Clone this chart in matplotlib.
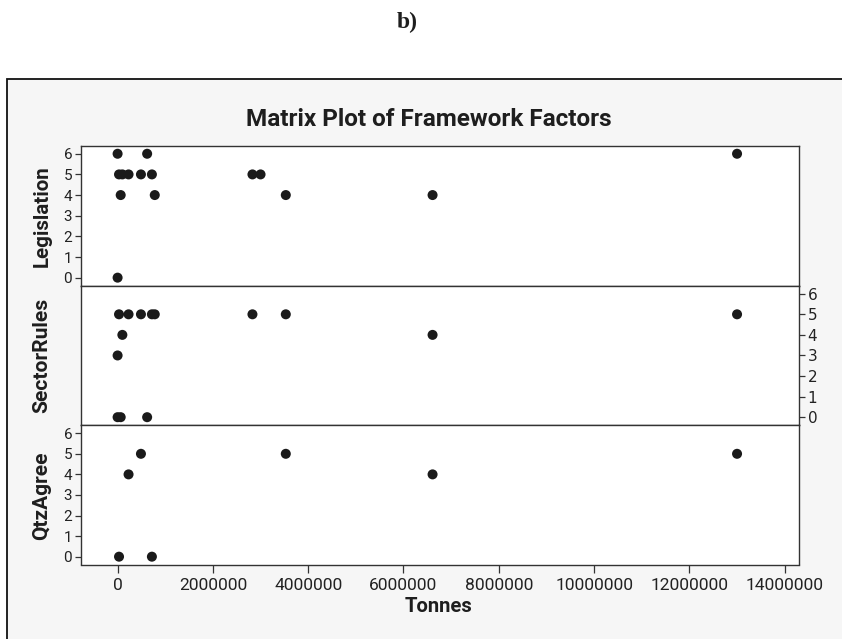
import numpy as np
import matplotlib
matplotlib.use("Agg")
import matplotlib.pyplot as plt
from matplotlib.patches import Rectangle

# ---- data (one observation per position) ----
tonnes = [0, 0, 30000, 65000, 100000, 230000, 490000, 620000, 720000,
          780000, 2830000, 3000000, 3530000, 6610000, 13000000]
legislation = [6, 0, 5, 4, 5, 5, 5, 6, 5, 4, 5, 5, 4, 4, 6]
sector_rules = [3, 0, 5, 0, 4, 5, 5, 0, 5, 5, 5, np.nan, 5, 4, 5]
qtz_agree = [np.nan, np.nan, 0, np.nan, np.nan, 4, 5, np.nan, 0, np.nan,
             np.nan, np.nan, 5, 4, 5]
panel_names = ["Legislation", "SectorRules", "QtzAgree"]
x_ticks = [0, 2000000, 4000000, 6000000, 8000000, 10000000, 12000000, 14000000]
y_ticks = [0, 1, 2, 3, 4, 5, 6]

W, H = 842, 639
fig = plt.figure(figsize=(W / 100, H / 100), dpi=100)
fig.patch.set_facecolor("white")

# grey framed panel background
bg = Rectangle((7 / W, -0.05), 1.2, (1 - 79 / H) + 0.05, transform=fig.transFigure,
               facecolor="#f6f6f6", edgecolor="#111111", lw=1.3, zorder=-5)
fig.add_artist(bg)

left_px, right_px = 81, 799
tops = [145.5, 285.5, 425.0]
bots = [285.5, 425.0, 564.5]
series = [legislation, sector_rules, qtz_agree]
FONT = "Roboto"
spine_col = "#333333"

axes = []
for i in range(3):
    ax = fig.add_axes([left_px / W, 1 - bots[i] / H,
                       (right_px - left_px) / W, (bots[i] - tops[i]) / H])
    ax.set_facecolor("white")
    ax.scatter(tonnes, series[i], s=52, color="#1a1a1a", edgecolors="none", zorder=3,
               clip_on=False)
    ax.set_xlim(-768000, 14300000)
    ax.set_ylim(-0.38, 6.4)
    ax.set_yticks(y_ticks)
    ax.set_yticklabels([str(v) for v in y_ticks])
    ax.set_xticks(x_ticks)
    ax.set_xticklabels([str(v) for v in x_ticks])
    for sp in ax.spines.values():
        sp.set_color(spine_col)
        sp.set_linewidth(1.0)
    ax.tick_params(axis="y", direction="out", length=4.3, width=0.9, color=spine_col,
                   pad=2, labelsize=11, labelcolor="#222222")
    ax.tick_params(axis="x", direction="out", length=5.8, width=0.9, color=spine_col,
                   pad=4, labelsize=12.5, labelcolor="#222222")
    for lab in ax.get_xticklabels() + ax.get_yticklabels():
        lab.set_family(FONT)
    axes.append(ax)

# top panel: y ticks left
axes[0].tick_params(axis="x", bottom=False, labelbottom=False)
# middle: y ticks right
axes[1].tick_params(axis="x", bottom=False, labelbottom=False)
axes[1].tick_params(axis="y", left=False, labelleft=False, right=True, labelright=True)
# bottom: y ticks left, x ticks bottom

def fit(t, target, vertical=False):
    fig.canvas.draw()
    bb = t.get_window_extent()
    cur = bb.height if vertical else bb.width
    t.set_fontsize(t.get_fontsize() * target / cur)

title = fig.text(429 / W, 1 - 119 / H, "Matrix Plot of Framework Factors",
                 ha="center", va="center", fontsize=15, fontweight="bold",
                 family=FONT, color="#1e1e1e")
fit(title, 368)

blab = fig.text(407 / W, 1 - 22 / H, "b)", ha="center", va="center", fontsize=17,
                fontweight="bold", family="Liberation Serif", color="#1e1e1e")

xl = fig.text(439 / W, 1 - 607 / H, "Tonnes", ha="center", va="center", fontsize=13,
              fontweight="bold", family=FONT, color="#1e1e1e")
fit(xl, 68)

ycent = [216, 355, 496]
ylen = [102, 115, 88]
for name, yc, ln in zip(panel_names, ycent, ylen):
    t = fig.text(42 / W, 1 - yc / H, name, ha="center", va="center", rotation=90,
                 fontsize=13, fontweight="bold", family=FONT, color="#1e1e1e")
    fit(t, ln, vertical=True)

fig.savefig("out.png", dpi=100, facecolor=fig.get_facecolor())
